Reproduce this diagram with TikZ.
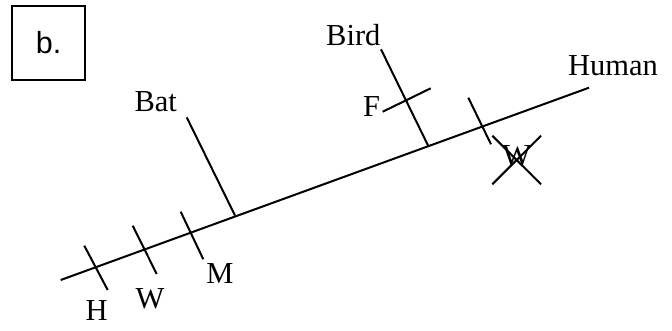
\documentclass[tikz,border=0pt]{standalone}
\usepackage{fontspec}
\setmainfont{Liberation Serif}
\newfontfamily\arialfont{Liberation Sans}
\tikzset{
  ln/.style={line width=2pt, line cap=butt},
  lbl/.style={inner sep=0pt, font=\fontsize{30.5}{36}\selectfont},
  boxlbl/.style={draw, line width=2pt, inner sep=0pt, minimum width=72.7pt, minimum height=74.3pt, font=\arialfont\fontsize{30.5}{36}\selectfont}
}
\begin{document}
\begin{tikzpicture}[x=1pt,y=-1pt]
\useasboundingbox (0,0) rectangle (672,330);
% box label
\node[boxlbl] (b) at (48.65,42.85) {b.};
% main line
\coordinate (m0) at (60.7,280);
\coordinate (m1) at (589,87.7);
\draw[ln] (m0) -- (m1);
% ticks on the left
\coordinate (h0) at (84.3,245.7); \coordinate (h1) at (107.7,290);
\coordinate (w0) at (132.7,225.7); \coordinate (w1) at (156.7,274);
\coordinate (mm0) at (180.7,211.7); \coordinate (mm1) at (203.3,259.3);
\draw[ln] (h0) -- (h1);
\draw[ln] (w0) -- (w1);
\draw[ln] (mm0) -- (mm1);
\node[lbl] (H) at (96.7,310.5) {H};
\node[lbl] (W) at (150,298.5) {W};
\node[lbl] (M) at (220,274) {M};
% Bat branch
\coordinate (bat0) at (186.7,117.3); \coordinate (bat1) at (235,215.5);
\draw[ln] (bat0) -- (bat1);
\node[lbl] (Bat) at (155.7,102) {Bat};
% Bird branch
\coordinate (bird0) at (381,49.3); \coordinate (bird1) at (428.3,146);
\draw[ln] (bird0) -- (bird1);
\node[lbl] (Bird) at (353.3,35.5) {Bird};
\coordinate (f0) at (382.7,111.7); \coordinate (f1) at (430.7,88.3);
\draw[ln] (f0) -- (f1);
\node[lbl] (F) at (371.7,107) {F};
% Human end
\node[lbl] (Human) at (613,65.5) {Human};
\coordinate (hu0) at (468.3,97.7); \coordinate (hu1) at (491,144.3);
\draw[ln] (hu0) -- (hu1);
\node[lbl] (Wx) at (516.7,155.5) {W};
\coordinate (x0) at (492.3,135.7); \coordinate (x1) at (541,184.3);
\coordinate (x2) at (541,135.7); \coordinate (x3) at (492.3,184.3);
\draw[ln] (x0) -- (x1);
\draw[ln] (x2) -- (x3);
\end{tikzpicture}
\end{document}
